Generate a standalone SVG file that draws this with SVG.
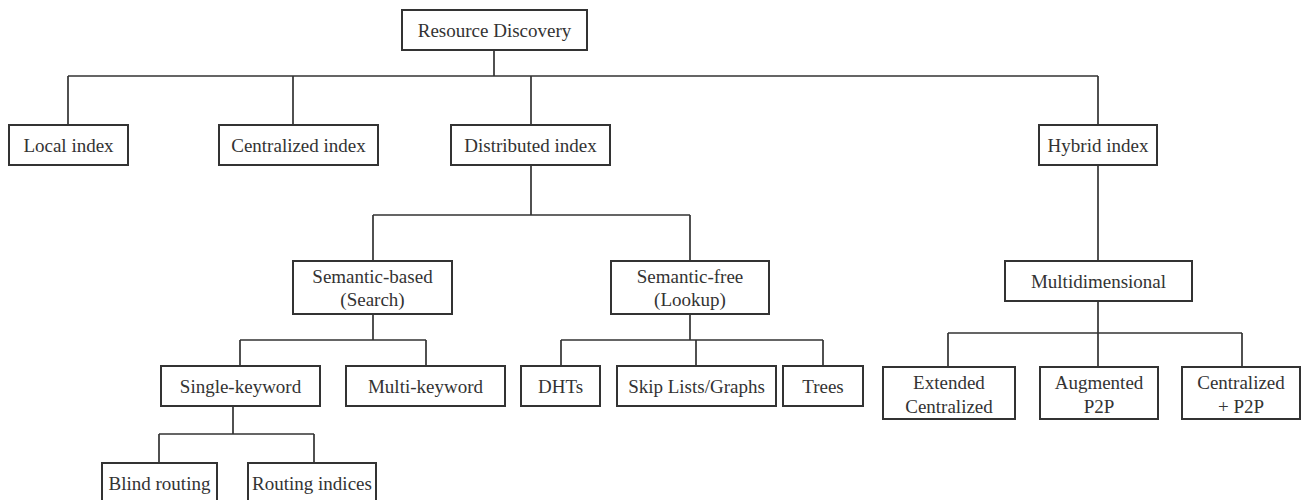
<svg xmlns="http://www.w3.org/2000/svg" width="1305" height="500" viewBox="0 0 1305 500">
<style>
.box{fill:#fff;stroke:#333;stroke-width:2}
.t{font-family:"Liberation Serif","Times New Roman",serif;font-size:19px;fill:#333;text-anchor:middle}
.c{fill:none;stroke:#333;stroke-width:1.7}
</style>
<rect width="1305" height="500" fill="#fff"/>
<g id="connectors" class="c">
<path d="M494 50V76M68 76H1098M68 76V125M293 76V125M531 76V125M1098 76V125"/>
<path d="M531 165V215M373 215H690M373 215V261M690 215V261"/>
<path d="M1098 165V261"/>
<path d="M1098 301V333M948 333H1242M948 333V367M1098 333V367M1242 333V367"/>
<path d="M373 314V340M240 340H426M240 340V366M426 340V366"/>
<path d="M690 314V340M561 340H823M561 340V366M696 340V366M823 340V366"/>
<path d="M233 406V434M159 434H314M159 434V463M314 434V463"/>
</g>
<g id="resource-discovery"><rect class="box" x="402" y="10" width="185" height="40"/><text class="t" x="494.5" y="37">Resource Discovery</text></g>
<g id="local-index"><rect class="box" x="9" y="125" width="119" height="40"/><text class="t" x="68.5" y="152">Local index</text></g>
<g id="centralized-index"><rect class="box" x="219" y="125" width="159" height="40"/><text class="t" x="298.5" y="152">Centralized index</text></g>
<g id="distributed-index"><rect class="box" x="451" y="125" width="159" height="40"/><text class="t" x="530.5" y="152">Distributed index</text></g>
<g id="hybrid-index"><rect class="box" x="1039" y="125" width="118" height="40"/><text class="t" x="1098" y="152">Hybrid index</text></g>
<g id="semantic-based"><rect class="box" x="293" y="261" width="159" height="53"/><text class="t" x="372.5" y="283">Semantic-based</text><text class="t" x="372.5" y="306">(Search)</text></g>
<g id="semantic-free"><rect class="box" x="611" y="261" width="158" height="53"/><text class="t" x="690" y="283">Semantic-free</text><text class="t" x="690" y="306">(Lookup)</text></g>
<g id="multidimensional"><rect class="box" x="1005" y="261" width="187" height="40"/><text class="t" x="1098.5" y="288">Multidimensional</text></g>
<g id="single-keyword"><rect class="box" x="161" y="366" width="159" height="40"/><text class="t" x="240.5" y="393">Single-keyword</text></g>
<g id="multi-keyword"><rect class="box" x="346" y="366" width="159" height="40"/><text class="t" x="425.5" y="393">Multi-keyword</text></g>
<g id="dhts"><rect class="box" x="521" y="366" width="79" height="40"/><text class="t" x="560.5" y="393">DHTs</text></g>
<g id="skip-lists"><rect class="box" x="617" y="366" width="159" height="40"/><text class="t" x="696.5" y="393">Skip Lists/Graphs</text></g>
<g id="trees"><rect class="box" x="783" y="366" width="80" height="40"/><text class="t" x="823" y="393">Trees</text></g>
<g id="extended-centralized"><rect class="box" x="883" y="367" width="132" height="52"/><text class="t" x="949" y="389">Extended</text><text class="t" x="949" y="413">Centralized</text></g>
<g id="augmented-p2p"><rect class="box" x="1040" y="367" width="118" height="52"/><text class="t" x="1099" y="389">Augmented</text><text class="t" x="1099" y="413">P2P</text></g>
<g id="centralized-p2p"><rect class="box" x="1182" y="367" width="118" height="52"/><text class="t" x="1241" y="389">Centralized</text><text class="t" x="1241" y="413">+ P2P</text></g>
<g id="blind-routing"><rect class="box" x="102" y="463" width="115" height="44"/><text class="t" x="159.5" y="490">Blind routing</text></g>
<g id="routing-indices"><rect class="box" x="248" y="463" width="128" height="44"/><text class="t" x="312" y="490">Routing indices</text></g>
</svg>
